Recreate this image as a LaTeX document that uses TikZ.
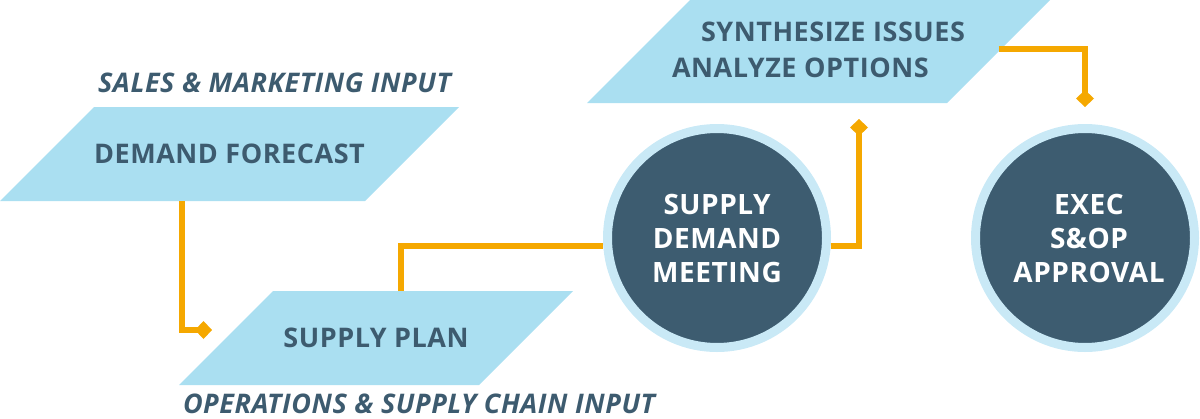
\documentclass[tikz,border=0pt]{standalone}
\usepackage{fontspec}
\setmainfont{Open Sans}[LetterSpace=2]
\usetikzlibrary{shapes.geometric,arrows.meta,calc}
\definecolor{parafill}{HTML}{AADFF1}
\definecolor{ringcol}{HTML}{C9E9F6}
\definecolor{darkcol}{HTML}{3D5C70}
\definecolor{txtcol}{HTML}{3D5B6F}
\definecolor{orgcol}{HTML}{F5A800}
\begin{document}
\begin{tikzpicture}[x=1pt,y=-1pt,
  parabox/.style={trapezium, trapezium left angle=45, trapezium right angle=135,
    trapezium stretches body=true, fill=parafill, draw=none, inner xsep=0pt, inner ysep=0pt, outer sep=0pt,
    text=txtcol, font=\bfseries\fontsize{27}{36}\selectfont},
  circbox/.style={circle, minimum size=219pt, inner sep=0pt, fill=darkcol, draw=ringcol,
    line width=9pt, text=white, align=center, font=\bfseries\fontsize{28}{34}\selectfont},
  header/.style={text=txtcol, font=\bfseries\itshape\fontsize{27}{30}\selectfont, inner sep=0pt, anchor=base},
  conn/.style={draw=orgcol, line width=6pt},
  tipped/.style={conn, -{Kite[length=17pt,width=18pt,inset=8.5pt]}}
]
\useasboundingbox (0,0) rectangle (1200,418);

\node[parabox, text height=56pt, text depth=38pt, minimum width=459pt] (df) at (229.5,154) {DEMAND FORECAST};
\node[parabox, text height=56pt, text depth=38pt, minimum width=394pt] (sp) at (376,338) {SUPPLY PLAN};
\node[parabox, text height=77pt, text depth=26pt, inner xsep=-70pt, minimum width=463pt, align=left] (syn) at (818.5,51.5)
  {\hspace*{29pt}SYNTHESIZE ISSUES\\ANALYZE OPTIONS};

\node[header] (hs) at (274.5,92) {SALES \& MARKETING INPUT};
\node[header] (ho) at (419,413) {OPERATIONS \& SUPPLY CHAIN INPUT};

\node[circbox] (sdm) at (717,238) {SUPPLY\\DEMAND\\MEETING};
\node[circbox] (ex) at (1085,238) {\hspace*{8pt}EXEC\\\hspace*{8pt}S\&OP\\\hspace*{8pt}APPROVAL};

\draw[tipped] ([xshift=182pt]df.bottom left corner) |- ([xshift=33pt,yshift=55pt]sp.bottom left corner);
\draw[conn] ([xshift=128pt]sp.top left corner) |- (sdm.184);
\draw[tipped] (sdm.356) -| ([xshift=272pt,yshift=-16pt]syn.bottom left corner);
\draw[tipped] ([yshift=2pt]syn.east) -| ([yshift=17pt]ex.north);
\end{tikzpicture}
\end{document}
